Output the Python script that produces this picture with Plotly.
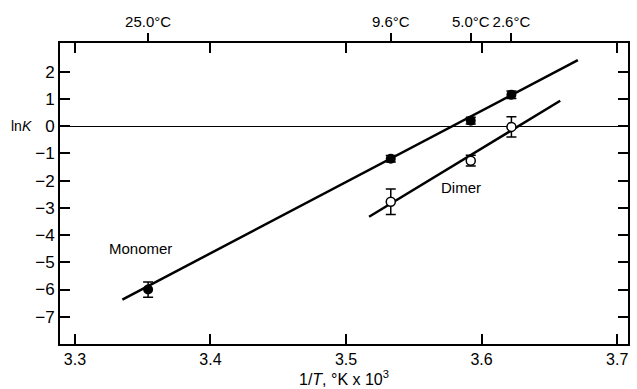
import plotly.graph_objects as go

# ---- data ----
monomer_x = [3.354, 3.533, 3.592, 3.622]
monomer_lnK = [-6.0, -1.2, 0.2, 1.15]
monomer_err = [0.28, 0.12, 0.12, 0.14]

dimer_x = [3.533, 3.592, 3.622]
dimer_lnK = [-2.78, -1.27, -0.03]
dimer_err = [0.47, 0.2, 0.37]

monomer_fit_x = [3.335, 3.671]
monomer_fit_y = [-6.37, 2.42]
dimer_fit_x = [3.517, 3.658]
dimer_fit_y = [-3.33, 0.93]

x_ticks = [3.3, 3.4, 3.5, 3.6, 3.7]
x_ticklabels = ["3.3", "3.4", "3.5", "3.6", "3.7"]
y_ticks = [2, 1, 0, -1, -2, -3, -4, -5, -6, -7]
temp_x = [3.354, 3.533, 3.592, 3.622]
temp_labels = ["25.0°C", "9.6°C", "5.0°C", "2.6°C"]

FONT = "Liberation Sans, Arial, sans-serif"
X_RANGE = [3.289, 3.708]
Y_RANGE = [-8.0, 3.05]

fig = go.Figure()

fig.add_trace(go.Scatter(x=monomer_fit_x, y=monomer_fit_y, mode="lines",
                         line=dict(color="black", width=2.5), showlegend=False))
fig.add_trace(go.Scatter(x=dimer_fit_x, y=dimer_fit_y, mode="lines",
                         line=dict(color="black", width=2.5), showlegend=False))

fig.add_trace(go.Scatter(
    x=monomer_x, y=monomer_lnK, mode="markers",
    marker=dict(symbol="circle", size=10, color="black"),
    error_y=dict(type="data", array=monomer_err, color="black", thickness=1.5, width=5),
    showlegend=False))
fig.add_trace(go.Scatter(
    x=dimer_x, y=dimer_lnK, mode="markers",
    marker=dict(symbol="circle", size=9, color="white", line=dict(color="black", width=1.5)),
    error_y=dict(type="data", array=dimer_err, color="black", thickness=1.5, width=5),
    showlegend=False))

# dummy trace to activate the top temperature axis
fig.add_trace(go.Scatter(x=[X_RANGE[0]], y=[Y_RANGE[0]], xaxis="x2", mode="markers",
                         marker=dict(opacity=0), showlegend=False, hoverinfo="skip"))

fig.update_layout(
    width=637, height=389,
    margin=dict(l=60, r=9, t=43, b=45),
    paper_bgcolor="white", plot_bgcolor="white",
    font=dict(family=FONT, size=16, color="black"),
    xaxis=dict(range=X_RANGE, tickvals=x_ticks, ticktext=x_ticklabels,
               ticks="inside", ticklen=10, tickwidth=1.5, tickcolor="black",
               showline=True, linecolor="black", linewidth=2, mirror="ticks",
               showgrid=False, zeroline=False, tickfont=dict(size=16),
               tickangle=0, automargin=False,
               title=dict(text="1/<i>T</i>, °K x 10<sup>3</sup>", standoff=2,
                          font=dict(size=16))),
    xaxis2=dict(range=X_RANGE, overlaying="x", side="top", tickvals=temp_x,
                ticktext=temp_labels, ticks="outside", ticklen=9, tickwidth=1.5,
                tickcolor="black", showline=False, showgrid=False, zeroline=False,
                tickfont=dict(size=15), tickangle=0, automargin=False),
    yaxis=dict(range=Y_RANGE, tickvals=y_ticks,
               ticks="inside", ticklen=10, tickwidth=1.5, tickcolor="black",
               showline=True, linecolor="black", linewidth=2, mirror="ticks",
               showgrid=False, zeroline=True, zerolinecolor="black", zerolinewidth=1,
               tickfont=dict(size=17), automargin=False),
)

fig.add_annotation(text="ln<i>K</i>", xref="paper", yref="y", x=-0.046, y=0,
                   showarrow=False, xanchor="right", font=dict(size=14))
fig.add_annotation(text="Monomer", xref="x", yref="y", x=3.3485, y=-4.5,
                   showarrow=False, font=dict(size=15))
fig.add_annotation(text="Dimer", xref="x", yref="y", x=3.585, y=-2.27,
                   showarrow=False, font=dict(size=15))

fig.write_html("out.html")
